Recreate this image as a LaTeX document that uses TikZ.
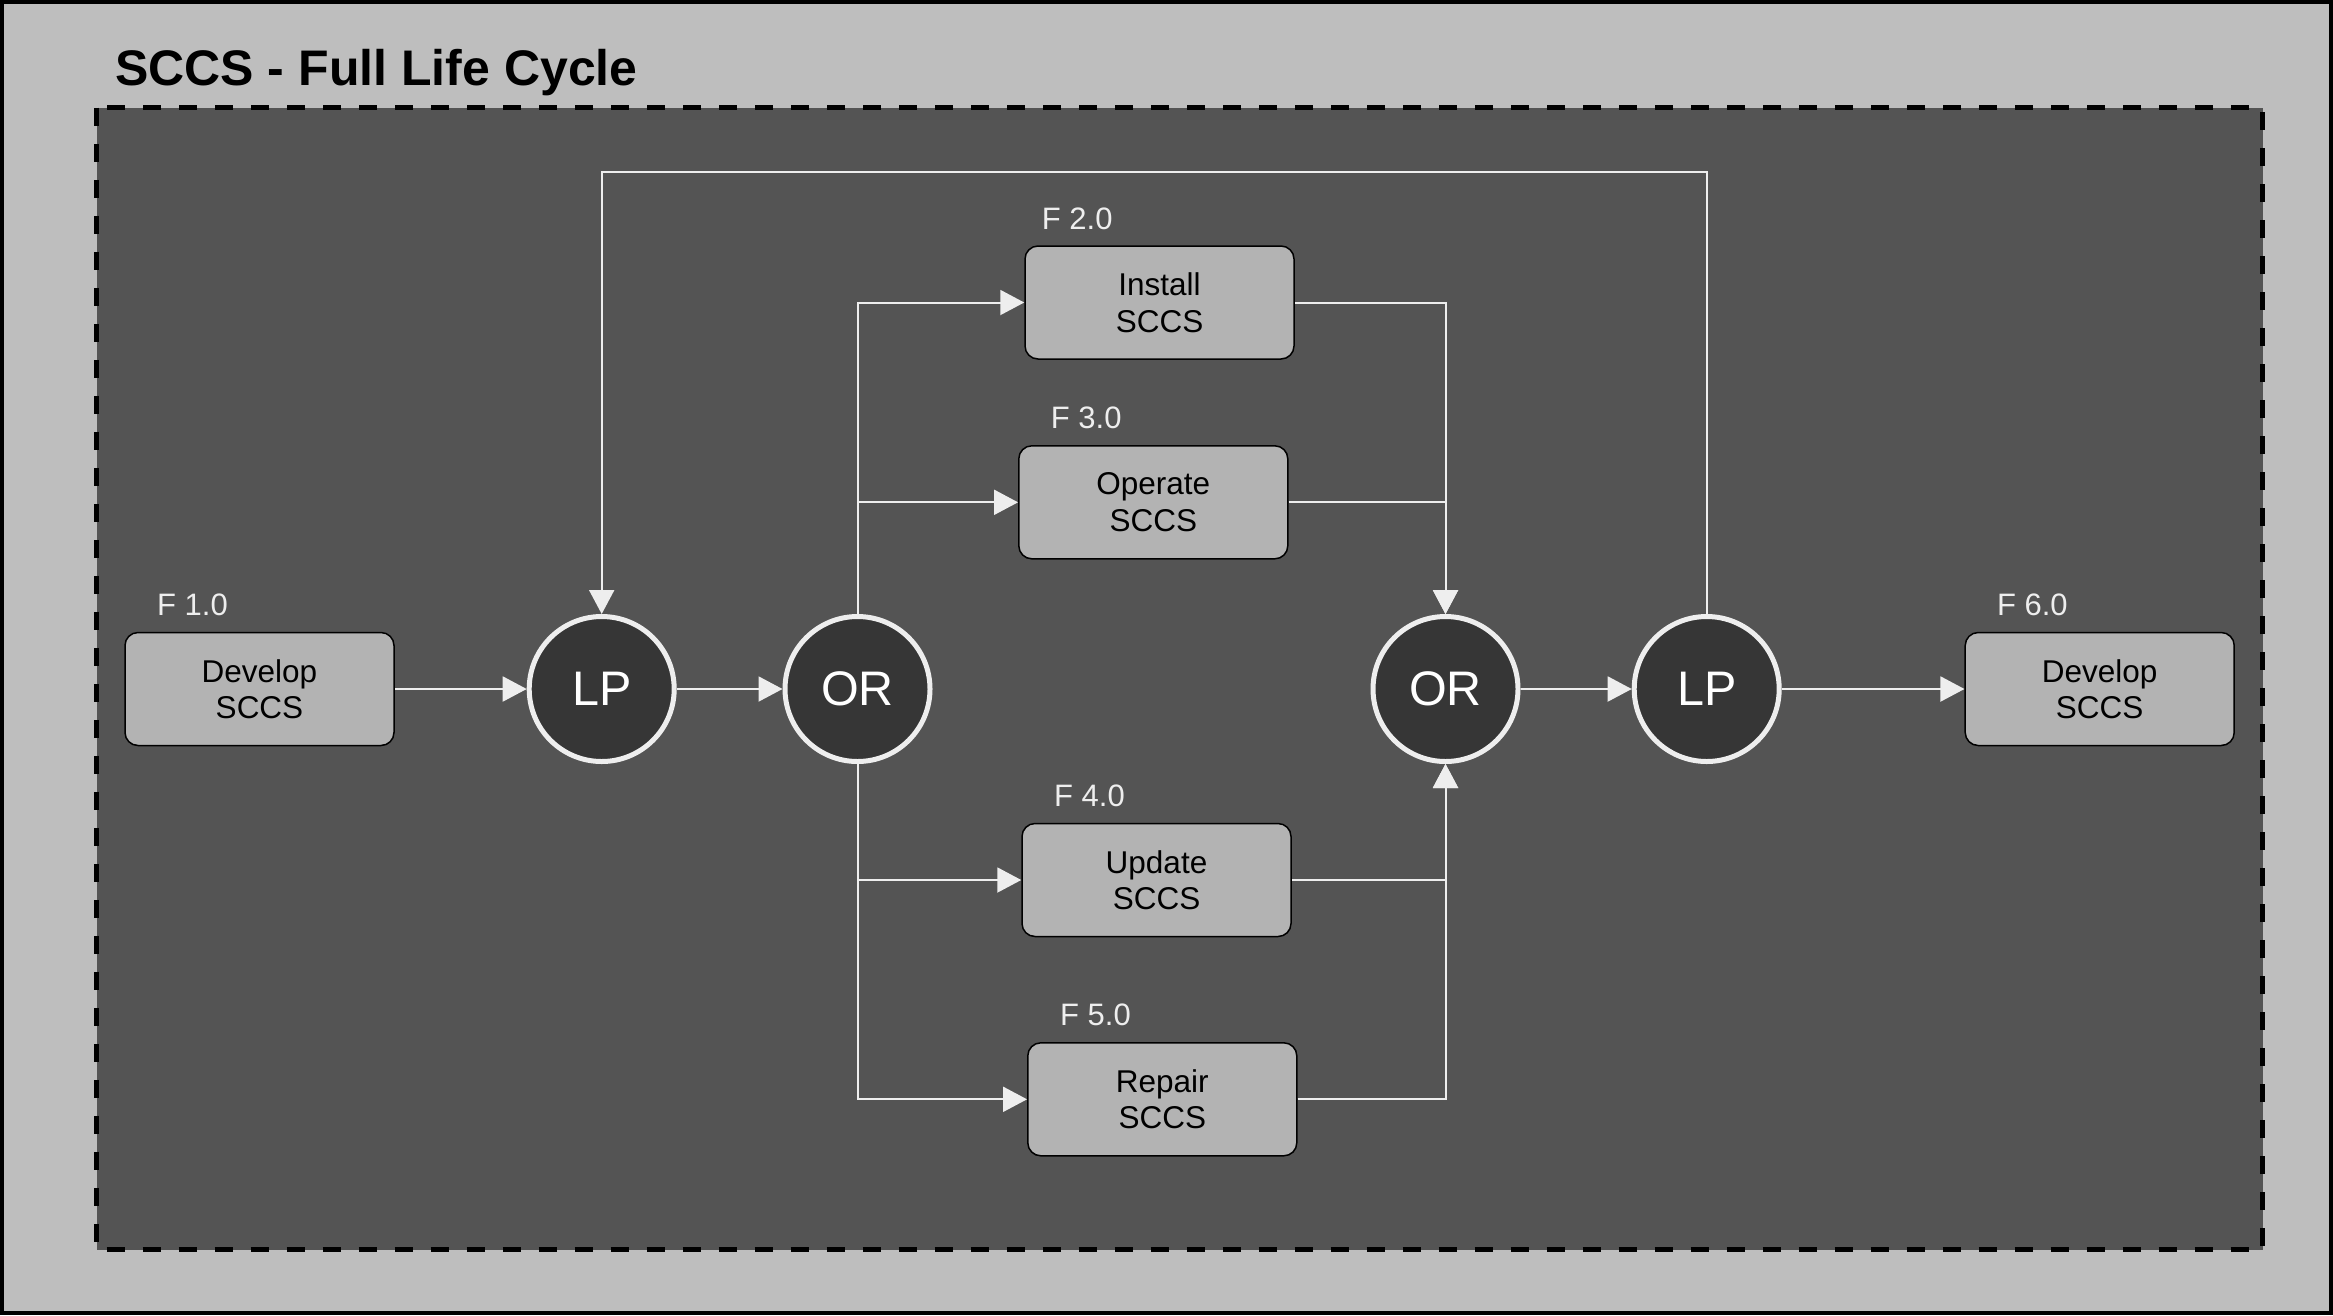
\documentclass[tikz,border=0pt]{standalone}
\usepackage{fontspec}
\setmainfont{Liberation Sans}
\usepackage{tikz}
\usetikzlibrary{arrows.meta, calc}

\definecolor{pagegray}{HTML}{BEBEBE}
\definecolor{panelgray}{HTML}{545454}
\definecolor{boxgray}{HTML}{B3B3B3}
\definecolor{gatefill}{HTML}{363636}
\definecolor{wireclr}{HTML}{EEEEEE}

\begin{document}
\begin{tikzpicture}[x=1pt, y=-1pt,
            func/.style={draw=black, line width=1.5pt, fill=boxgray, rounded corners=13pt,
                minimum width=269pt, minimum height=113pt, align=center, text=black,
                font=\fontsize{31.5}{36.5}\selectfont},
            gate/.style={circle, draw=wireclr, line width=5pt, fill=gatefill, minimum size=145pt,
                inner sep=0pt, text=white, font=\fontsize{48.5}{52}\selectfont},
            flabel/.style={anchor=base west, inner sep=0pt, text=wireclr,
                font=\fontsize{31}{34}\selectfont},
            wire/.style={draw=wireclr, line width=2pt},
            flow/.style={wire, -{Triangle[length=24pt, width=25pt]}}]
            \useasboundingbox (0,0) rectangle (2333,1315);
            \draw[fill=pagegray, line width=4pt] (2,2) rectangle (2331,1313);
            \draw[fill=panelgray, line width=5pt, dash pattern=on 18pt off 18pt] (96.5,107.5) rectangle (2262.5,1249.5);
            \node[anchor=base west, inner sep=0pt, font=\fontsize{50}{55}\selectfont\bfseries] (title) at (115,85) {SCCS - Full Life Cycle};

            \node[func] (dev1) at (259.5,689) {Develop\\SCCS};
            \node[func] (install) at (1159.5,302.5) {Install\\SCCS};
            \node[func] (operate) at (1153.3,502.3) {Operate\\SCCS};
            \node[func] (update) at (1156.5,880) {Update\\SCCS};
            \node[func] (repair) at (1162.3,1099.3) {Repair\\SCCS};
            \node[func] (dev2) at (2099.7,689) {Develop\\SCCS};

            \node[flabel] (f1) at (157,615) {F 1.0};
            \node[flabel] (f2) at (1041.7,229) {F 2.0};
            \node[flabel] (f3) at (1050.7,428) {F 3.0};
            \node[flabel] (f4) at (1054,806.7) {F 4.0};
            \node[flabel] (f5) at (1060,1025) {F 5.0};
            \node[flabel] (f6) at (1996.8,615) {F 6.0};

            \node[gate] (lp1) at (601.7,689) {LP};
            \node[gate] (or1) at (857.5,689) {OR};
            \node[gate] (or2) at (1445.5,689) {OR};
            \node[gate] (lp2) at (1706.7,689) {LP};
            \coordinate (looptop) at (1706.7,172);

            \draw[flow] (dev1) -- (lp1);
            \draw[flow] (lp1) -- (or1);
            \draw[flow] (or1.north) |- (install.west);
            \draw[flow] (or1.north) |- (operate.west);
            \draw[flow] (or1.south) |- (update.west);
            \draw[flow] (or1.south) |- (repair.west);
            \draw[flow] (install.east) -| (or2.north);
            \draw[flow] (operate.east) -| (or2.north);
            \draw[flow] (update.east) -| (or2.south);
            \draw[flow] (repair.east) -| (or2.south);
            \draw[flow] (or2) -- (lp2);
            \draw[flow] (lp2) -- (dev2);
            \draw[flow] (lp2.north) -- (looptop) -| (lp1.north);
        \end{tikzpicture}
\end{document}
